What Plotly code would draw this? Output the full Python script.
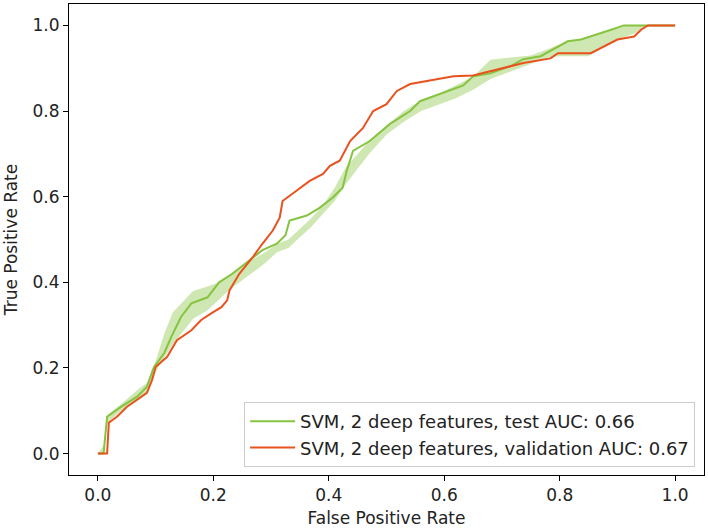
import plotly.graph_objects as go

# Validation ROC (red)
val_fpr = [0, 0.016, 0.019, 0.033, 0.05, 0.068, 0.085, 0.094, 0.1, 0.12, 0.137, 0.162, 0.179, 0.197,
           0.214, 0.224, 0.228, 0.245, 0.268, 0.285, 0.303, 0.315, 0.32, 0.344, 0.367, 0.39, 0.402,
           0.419, 0.437, 0.459, 0.477, 0.5, 0.518, 0.541, 0.576, 0.616, 0.65, 0.697, 0.737, 0.784,
           0.797, 0.854, 0.877, 0.9, 0.929, 0.941, 0.953, 1.0]
val_tpr = [0, 0, 0.072, 0.086, 0.109, 0.126, 0.142, 0.172, 0.202, 0.226, 0.265, 0.288, 0.312, 0.328,
           0.342, 0.358, 0.381, 0.42, 0.458, 0.49, 0.521, 0.551, 0.59, 0.614, 0.637, 0.653, 0.672,
           0.684, 0.73, 0.76, 0.8, 0.816, 0.847, 0.863, 0.872, 0.881, 0.883, 0.898, 0.912, 0.923,
           0.935, 0.935, 0.951, 0.967, 0.974, 0.99, 1.0, 1.0]

# Test ROC mean (green)
test_fpr = [0, 0.01, 0.012, 0.016, 0.04, 0.068, 0.085, 0.097, 0.115, 0.127, 0.144, 0.162, 0.19, 0.21,
            0.233, 0.257, 0.285, 0.31, 0.325, 0.332, 0.362, 0.384, 0.407, 0.424, 0.431, 0.442, 0.471,
            0.506, 0.541, 0.558, 0.593, 0.633, 0.65, 0.68, 0.715, 0.737, 0.767, 0.797, 0.814, 0.837,
            0.854, 0.889, 0.911, 1.0]
test_tpr = [0, 0, 0.03, 0.086, 0.109, 0.133, 0.156, 0.202, 0.235, 0.272, 0.319, 0.351, 0.365, 0.40,
            0.42, 0.445, 0.475, 0.49, 0.51, 0.544, 0.556, 0.574, 0.598, 0.621, 0.66, 0.707, 0.73,
            0.77, 0.8, 0.823, 0.84, 0.86, 0.881, 0.888, 0.905, 0.921, 0.928, 0.951, 0.963, 0.967,
            0.974, 0.99, 1.0, 1.0]

# Test ROC band
band_fpr = [0, 0.01, 0.016, 0.04, 0.07, 0.085, 0.1, 0.115, 0.13, 0.15, 0.165, 0.19, 0.21, 0.23, 0.25,
            0.27, 0.29, 0.31, 0.33, 0.35, 0.37, 0.39, 0.41, 0.43, 0.45, 0.47, 0.5, 0.53, 0.56, 0.59,
            0.62, 0.65, 0.68, 0.7, 0.72, 0.75, 0.78, 0.8, 0.83, 0.85, 0.87, 0.89, 0.91, 0.93, 0.95, 1.0]
band_low = [0, 0, 0.07, 0.10, 0.125, 0.14, 0.19, 0.225, 0.255, 0.29, 0.315, 0.335, 0.36, 0.385, 0.405,
            0.425, 0.445, 0.47, 0.48, 0.505, 0.53, 0.56, 0.59, 0.63, 0.665, 0.70, 0.745, 0.775, 0.80,
            0.815, 0.83, 0.85, 0.875, 0.885, 0.895, 0.91, 0.925, 0.928, 0.928, 0.928, 0.947, 0.96,
            0.972, 0.981, 1.0, 1.0]
band_high = [0, 0.02, 0.09, 0.115, 0.15, 0.165, 0.215, 0.28, 0.33, 0.36, 0.38, 0.39, 0.40, 0.42, 0.44,
             0.455, 0.47, 0.49, 0.50, 0.525, 0.55, 0.58, 0.62, 0.67, 0.70, 0.73, 0.765, 0.80, 0.825,
             0.84, 0.86, 0.88, 0.92, 0.923, 0.925, 0.93, 0.945, 0.956, 0.967, 0.974, 0.98, 0.99,
             1.0, 1.0, 1.0, 1.0]

tick_vals = [0.0, 0.2, 0.4, 0.6, 0.8, 1.0]
tick_text = ["0.0", "0.2", "0.4", "0.6", "0.8", "1.0"]

GREEN = "#86c440"
RED = "#e9521f"
FS = 17

fig = go.Figure()
fig.add_trace(go.Scatter(x=band_fpr, y=band_low, mode="lines", line=dict(width=0, color=GREEN),
                         showlegend=False, hoverinfo="skip"))
fig.add_trace(go.Scatter(x=band_fpr, y=band_high, mode="lines", line=dict(width=0, color=GREEN),
                         fill="tonexty", fillcolor="rgba(134,196,64,0.4)", showlegend=False,
                         hoverinfo="skip"))
fig.add_trace(go.Scatter(x=test_fpr, y=test_tpr, mode="lines", line=dict(width=2, color=GREEN),
                         name="SVM, 2 deep features, test AUC: 0.66"))
fig.add_trace(go.Scatter(x=val_fpr, y=val_tpr, mode="lines", line=dict(width=2, color=RED),
                         name="SVM, 2 deep features, validation AUC: 0.67"))

axis_common = dict(range=[-0.05, 1.05], tickvals=tick_vals, ticktext=tick_text, ticks="outside",
                   ticklen=5, tickwidth=1, tickcolor="black", showline=True, linecolor="black",
                   linewidth=1, mirror=True, showgrid=False, zeroline=False, automargin=False,
                   tickfont=dict(size=FS, color="#222"))
fig.update_layout(
    width=708, height=529,
    margin=dict(l=69, r=4, t=4, b=54),
    paper_bgcolor="white", plot_bgcolor="white",
    font=dict(family="DejaVu Sans", size=FS, color="#222"),
    xaxis=dict(title=dict(text="False Positive Rate", standoff=7, font=dict(size=FS)), **axis_common),
    yaxis=dict(title=dict(text="True Positive Rate", standoff=10, font=dict(size=FS)), **axis_common),
    legend=dict(x=0.986, y=0.017, xanchor="right", yanchor="bottom", bordercolor="#cccccc",
                borderwidth=1, bgcolor="rgba(255,255,255,0.8)", font=dict(size=18),
                traceorder="normal", tracegroupgap=0, itemwidth=45),
)
fig.write_html("out.html", post_script="document.body.style.margin='0';",
               config={"displayModeBar": False})
